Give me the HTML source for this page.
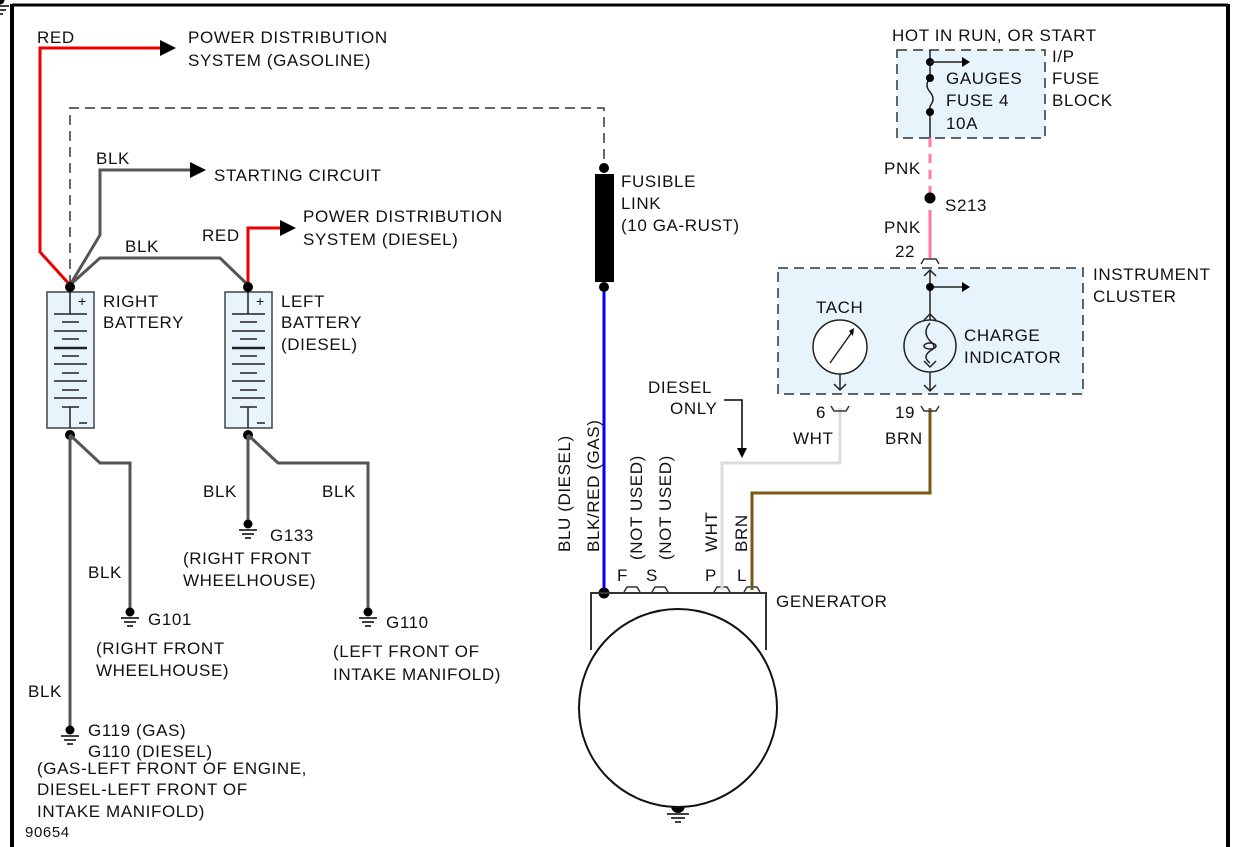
<!DOCTYPE html>
<html><head><style>body{margin:0;background:#fff}svg{display:block}text{font-family:"Liberation Sans",sans-serif;font-size:17px;fill:#111;letter-spacing:0.6px}</style></head><body>
<svg width="1235" height="847" viewBox="0 0 1235 847">
<rect x="0" y="0" width="1235" height="847" fill="#fff"/>
<line x1="12" y1="4" x2="12" y2="847" stroke="#000" stroke-width="4"/>
<line x1="1228" y1="4" x2="1228" y2="847" stroke="#000" stroke-width="4"/>
<line x1="12" y1="5" x2="1228" y2="5" stroke="#000" stroke-width="3"/>
<polyline points="70,285 70,108 604,108 604,168" fill="none" stroke="#333" stroke-width="1.5" stroke-dasharray="10,6"/>
<polyline points="70,285 40,252 40,48 160,48" fill="none" stroke="#e00" stroke-width="3"/>
<polygon points="160,40 176,48 160,56" fill="#000"/>
<text x="37" y="43">RED</text>
<text x="188" y="43">POWER DISTRIBUTION</text>
<text x="188" y="66">SYSTEM  (GASOLINE)</text>
<polyline points="70,285 100,235 100,170 190,170" fill="none" stroke="#555" stroke-width="3"/>
<polygon points="190,162 206,170 190,178" fill="#000"/>
<text x="96" y="164">BLK</text>
<text x="214" y="181">STARTING CIRCUIT</text>
<polyline points="70,285 100,258 220,258 248,285" fill="none" stroke="#555" stroke-width="3"/>
<text x="125" y="252">BLK</text>
<polyline points="248,285 248,228 280,228" fill="none" stroke="#e00" stroke-width="3"/>
<polygon points="280,220 296,228 280,236" fill="#000"/>
<text x="202" y="241">RED</text>
<text x="303" y="222">POWER DISTRIBUTION</text>
<text x="303" y="245">SYSTEM  (DIESEL)</text>
<g id="b1">
<rect x="47" y="292" width="47" height="136" fill="#e8f4fb" stroke="#444" stroke-width="1.5"/>
<line x1="70" y1="292" x2="70" y2="314" stroke="#222" stroke-width="1.5"/>
<line x1="70" y1="407" x2="70" y2="428" stroke="#222" stroke-width="1.5"/>
<g stroke="#222" stroke-width="1.5">
<line x1="54" y1="314" x2="87" y2="314"/><line x1="62" y1="322" x2="79" y2="322"/>
<line x1="54" y1="331" x2="87" y2="331"/><line x1="62" y1="339" x2="79" y2="339"/>
<line x1="54" y1="348" x2="87" y2="348" stroke-width="2.5"/><line x1="62" y1="356" x2="79" y2="356"/>
<line x1="54" y1="364" x2="87" y2="364"/><line x1="62" y1="373" x2="79" y2="373"/>
<line x1="54" y1="381" x2="87" y2="381"/><line x1="62" y1="390" x2="79" y2="390"/>
<line x1="54" y1="398" x2="87" y2="398"/><line x1="62" y1="407" x2="79" y2="407"/>
</g>
<text x="78" y="306" style="font-size:14px">+</text>
<line x1="79" y1="423" x2="87" y2="423" stroke="#222" stroke-width="1.5"/>
</g>
<use href="#b1" transform="translate(178,0)"/>
<g fill="#000"><circle cx="70" cy="287" r="5"/><circle cx="248" cy="287" r="5"/><circle cx="70" cy="435" r="5"/><circle cx="248" cy="435" r="5"/></g>
<text x="103" y="307">RIGHT</text><text x="103" y="328">BATTERY</text>
<text x="281" y="307">LEFT</text><text x="281" y="328">BATTERY</text><text x="281" y="350">(DIESEL)</text>
<g fill="none" stroke="#555" stroke-width="3">
<line x1="70" y1="435" x2="70" y2="727"/>
<polyline points="70,435 100,463 130,463 130,608"/>
<line x1="248" y1="435" x2="248" y2="520"/>
<polyline points="248,435 278,463 368,463 368,608"/>
</g>
<g id="gnd"><circle cx="0" cy="0" r="4.5" fill="#000"/><g stroke="#000" stroke-width="1.5"><line x1="-9" y1="6" x2="9" y2="6"/><line x1="-6" y1="10" x2="6" y2="10"/><line x1="-3" y1="14" x2="3" y2="14"/></g></g>
<use href="#gnd" transform="translate(130,612)"/>
<use href="#gnd" transform="translate(248,524)"/>
<use href="#gnd" transform="translate(368,612)"/>
<use href="#gnd" transform="translate(70,730)"/>
<circle cx="678" cy="806" r="7" fill="#000"/>
<g stroke="#000" stroke-width="1.5"><line x1="667" y1="814" x2="689" y2="814"/><line x1="671" y1="818" x2="685" y2="818"/><line x1="675" y1="822" x2="681" y2="822"/></g>
<text x="88" y="578">BLK</text>
<text x="148" y="625">G101</text>
<text x="96" y="654">(RIGHT FRONT</text><text x="96" y="676">WHEELHOUSE)</text>
<text x="203" y="497">BLK</text>
<text x="270" y="541">G133</text>
<text x="183" y="564">(RIGHT FRONT</text><text x="183" y="586">WHEELHOUSE)</text>
<text x="322" y="497">BLK</text>
<text x="386" y="628">G110</text>
<text x="333" y="657">(LEFT FRONT OF</text><text x="333" y="680">INTAKE MANIFOLD)</text>
<text x="28" y="697">BLK</text>
<text x="88" y="736">G119 (GAS)</text>
<text x="88" y="757">G110 (DIESEL)</text>
<text x="37" y="774">(GAS-LEFT FRONT OF ENGINE,</text>
<text x="37" y="795">DIESEL-LEFT FRONT OF</text>
<text x="37" y="817">INTAKE MANIFOLD)</text>
<text x="25" y="837" style="font-size:15px">90654</text>
<circle cx="604" cy="168" r="5" fill="#000"/>
<rect x="595" y="174" width="19" height="108" fill="#000"/>
<line x1="604" y1="287" x2="604" y2="592" stroke="#00f" stroke-width="3"/>
<circle cx="604" cy="287" r="5" fill="#000"/>
<circle cx="604" cy="593" r="5.5" fill="#000"/>
<text x="621" y="187">FUSIBLE</text><text x="621" y="209">LINK</text><text x="621" y="231">(10 GA-RUST)</text>
<text transform="translate(570,552) rotate(-90)">BLU  (DIESEL)</text>
<text transform="translate(599,552) rotate(-90)">BLK/RED   (GAS)</text>
<text transform="translate(642,560) rotate(-90)">(NOT USED)</text>
<text transform="translate(671,560) rotate(-90)">(NOT USED)</text>
<text transform="translate(717,552) rotate(-90)">WHT</text>
<text transform="translate(747,552) rotate(-90)">BRN</text>
<text x="617" y="581">F</text><text x="646" y="581">S</text><text x="705" y="581">P</text><text x="737" y="581">L</text>
<polyline points="591,650 591,593 766,593 766,650" fill="none" stroke="#333" stroke-width="2"/>
<circle cx="678" cy="708" r="99" fill="#fff" stroke="#111" stroke-width="2"/>
<text x="776" y="607">GENERATOR</text>
<g fill="none" stroke="#333" stroke-width="1.5">
<path d="M624,592 l3,-5 h10 l3,5 M652,592 l3,-5 h10 l3,5 M714,592 l3,-5 h10 l3,5 M744,592 l3,-5 h10 l3,5"/>
</g>
<polyline points="722,590 722,463 840,463 840,408" fill="none" stroke="#ddd" stroke-width="3"/>
<polyline points="752,590 752,493 930,493 930,408" fill="none" stroke="#7a5a10" stroke-width="3"/>
<text x="648" y="393">DIESEL</text><text x="670" y="414">ONLY</text>
<polyline points="724,400 742,400 742,452" fill="none" stroke="#000" stroke-width="1.5"/>
<polygon points="737,448 742,458 747,448" fill="#000"/>
<text x="816" y="418">6</text><text x="793" y="444">WHT</text>
<text x="895" y="418">19</text><text x="885" y="444">BRN</text>
<rect x="897" y="50" width="148" height="88" fill="#e8f4fb" stroke="#333" stroke-width="1.5" stroke-dasharray="10,6"/>
<text x="892" y="41">HOT IN RUN, OR START</text>
<line x1="930" y1="50" x2="930" y2="78" stroke="#222" stroke-width="1.5"/>
<path d="M930,78 q-6,7 0,14 q6,7 0,14" fill="none" stroke="#222" stroke-width="1.5"/>
<line x1="930" y1="106" x2="930" y2="138" stroke="#222" stroke-width="1.5"/>
<circle cx="930" cy="62" r="4" fill="#000"/><circle cx="930" cy="78" r="4" fill="#000"/><circle cx="930" cy="112" r="4" fill="#000"/>
<line x1="930" y1="62" x2="962" y2="62" stroke="#222" stroke-width="1.5"/>
<polygon points="962,57 970,62 962,67" fill="#000"/>
<text x="946" y="84">GAUGES</text><text x="946" y="106">FUSE 4</text><text x="946" y="129">10A</text>
<text x="1052" y="62">I/P</text><text x="1052" y="84">FUSE</text><text x="1052" y="106">BLOCK</text>
<line x1="930" y1="138" x2="930" y2="193" stroke="#f48" stroke-width="3" stroke-dasharray="9,7" opacity="0.7"/>
<circle cx="930" cy="198" r="5.5" fill="#000"/>
<line x1="930" y1="210" x2="930" y2="258" stroke="#f7a" stroke-width="3"/>
<text x="884" y="174">PNK</text><text x="945" y="211">S213</text>
<text x="884" y="233">PNK</text><text x="895" y="257">22</text>
<rect x="778" y="268" width="305" height="126" fill="#e8f4fb" stroke="#333" stroke-width="1.5" stroke-dasharray="10,6"/>
<path d="M921,264 l3,-5 h12 l3,5 M921,406 l3,5 h12 l3,-5 M831,406 l3,5 h12 l3,-5" fill="none" stroke="#333" stroke-width="1.5"/>
<g fill="none" stroke="#222" stroke-width="1.5">
<line x1="930" y1="270" x2="930" y2="390"/>
<polyline points="924,276 930,270 936,276"/>
<polyline points="924,320 930,314 936,320"/>
<polyline points="924,385 930,391 936,385"/>
<line x1="930" y1="287" x2="962" y2="287"/>
<circle cx="930" cy="346" r="26" fill="#e8f4fb"/>
<path d="M930,323 q-8,9 0,18 q8,6 0,10 q-8,6 0,12" />
<ellipse cx="930" cy="346" rx="6" ry="3"/>
<polyline points="924,361 930,367 936,361"/>
<circle cx="840" cy="347" r="27" fill="#fff"/>
<line x1="830" y1="363" x2="852" y2="332"/>
<line x1="840" y1="374" x2="840" y2="390"/>
<polyline points="834,384 840,390 846,384"/>
</g>
<polygon points="849,331 854,328 853,336" fill="#000"/>
<circle cx="930" cy="287" r="4" fill="#000"/>
<polygon points="962,282 970,287 962,292" fill="#000"/>
<text x="816" y="313">TACH</text>
<text x="964" y="341">CHARGE</text><text x="964" y="363">INDICATOR</text>
<text x="1093" y="280">INSTRUMENT</text><text x="1093" y="302">CLUSTER</text>
</svg>
</body></html>
